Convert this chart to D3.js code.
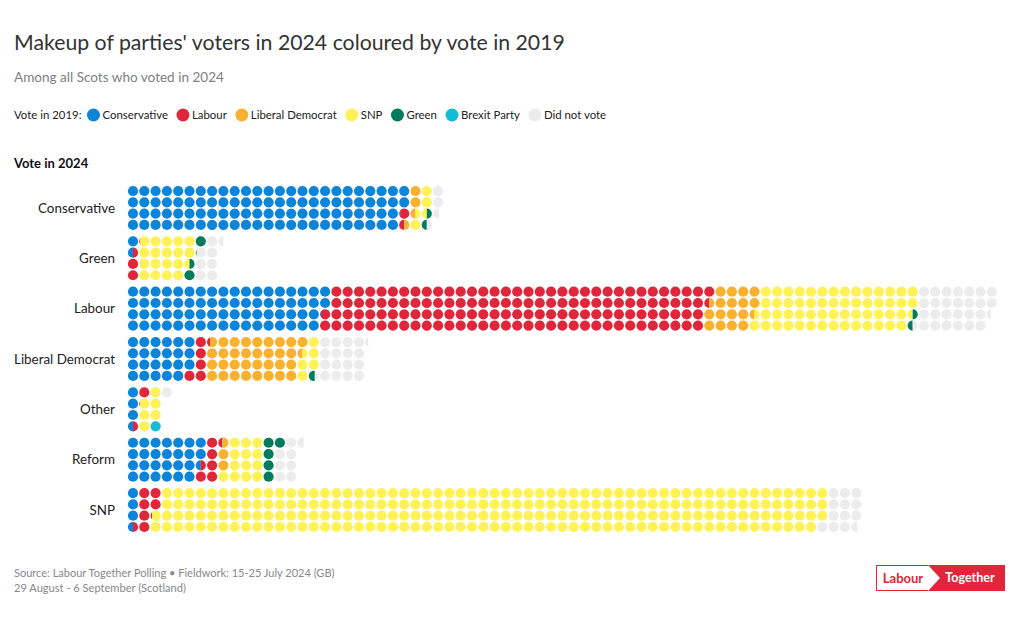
<!DOCTYPE html>
<html>
<head>
<meta charset="utf-8">
<script src="https://cdn.jsdelivr.net/npm/d3@7"></script>
<style>
  html, body { margin: 0; padding: 0; background: #fff; }
  svg { display: block; font-family: Lato, "Open Sans", sans-serif; }
</style>
</head>
<body>
<svg id="chart" width="1020" height="624"></svg>
<script>
// ---- Data (units = dots) ----
const parties2024 = ["Conservative", "Green", "Labour", "Liberal Democrat", "Other", "Reform", "SNP"];
const votes2019 = ["Conservative", "Labour", "Liberal Democrat", "SNP", "Green", "Brexit Party", "Did not vote"];
const colours2019 = ["#0b84d9", "#e0263a", "#f9b12f", "#fff257", "#007b5e", "#12bcd4", "#ececec"];
// values per 2024 party, in the order of parties2024
const fromConservative = [98.1, 1.5, 70.1, 23, 3.5, 26.5, 3.5];
const fromLabour       = [1.4, 2.6, 135.4, 5.3, 1.6, 5.9, 6.65];
const fromLibDem       = [3.0, 0, 17, 33.2, 0, 2.6, 0];
const fromSNP          = [4.0, 18.4, 56, 5.5, 5.9, 13, 236.85];
const fromGreen        = [1.0, 2.6, 1.0, 0.6, 0, 5, 0];
const fromBrexit       = [0, 0, 0, 0, 1.0, 0, 0];
const fromDidNotVote   = [3.1, 7.4, 26.9, 16.7, 1.0, 7.6, 12.6];
const seriesValues = [fromConservative, fromLabour, fromLibDem, fromSNP, fromGreen, fromBrexit, fromDidNotVote];

const svg = d3.select("#chart");
const ROWS = 4;
const step = 11.3;
const rad = 5.1;

// scales
const x = d3.scaleLinear().domain([0, 1]).range([133, 133 + step]);
const y = d3.scaleBand().domain(parties2024).range([182.8, 535.2]).padding(0);
const colour = d3.scaleOrdinal().domain(votes2019).range(colours2019);

function fitText(sel, target) {
  const node = sel.node();
  const fs = parseFloat(sel.attr("font-size"));
  const w = node.getComputedTextLength();
  if (w > 0) sel.attr("font-size", (fs * target / w).toFixed(2));
  return sel;
}

// Title & subtitle
fitText(svg.append("text").attr("x", 14).attr("y", 50).attr("font-size", 22)
  .attr("fill", "#333").text("Makeup of parties' voters in 2024 coloured by vote in 2019"), 551);
fitText(svg.append("text").attr("x", 14).attr("y", 82).attr("font-size", 14)
  .attr("fill", "#808080").text("Among all Scots who voted in 2024"), 210);

// Legend
const lg = svg.append("g");
let lx = 14;
const ly = 115;
const lt = lg.append("text").attr("x", lx).attr("y", ly).attr("dy", "0.35em")
  .attr("font-size", 11.4).attr("fill", "#222").text("Vote in 2019:");
lx += lt.node().getComputedTextLength() + 12;
votes2019.forEach((v) => {
  lg.append("circle").attr("cx", lx).attr("cy", ly).attr("r", 6.5).attr("fill", colour(v));
  const t = lg.append("text").attr("x", lx + 9).attr("y", ly).attr("dy", "0.35em")
    .attr("font-size", 11.4).attr("fill", "#222").text(v);
  lx += 9 + t.node().getComputedTextLength() + 15;
});

// Section heading
svg.append("text").attr("x", 14).attr("y", 163).attr("dy", "0.35em")
  .attr("font-size", 13).attr("font-weight", "bold").attr("fill", "#111").text("Vote in 2024");

// Party labels
svg.append("g").selectAll("text").data(parties2024).join("text")
  .attr("x", 115).attr("y", d => y(d) + y.bandwidth() / 2).attr("dy", "0.35em")
  .attr("text-anchor", "end").attr("font-size", 13.4).attr("fill", "#222").text(d => d);

// Build dot pieces (column-major fill, partial dots split left/right)
function piecePath(cx, cy, u0, u1) {
  if (u0 <= 0.001 && u1 >= 0.999) {
    return `M${cx - rad},${cy}A${rad},${rad} 0 1 1 ${cx + rad},${cy}A${rad},${rad} 0 1 1 ${cx - rad},${cy}Z`;
  }
  const x0 = cx - rad + 2 * rad * u0, x1 = cx - rad + 2 * rad * u1;
  const h0 = Math.sqrt(Math.max(0, rad * rad - (x0 - cx) ** 2));
  const h1 = Math.sqrt(Math.max(0, rad * rad - (x1 - cx) ** 2));
  return `M${x0},${cy - h0}A${rad},${rad} 0 0 1 ${x1},${cy - h1}L${x1},${cy + h1}A${rad},${rad} 0 0 1 ${x0},${cy + h0}Z`;
}

const pieces = [];
parties2024.forEach((p, pi) => {
  let acc = 0;
  votes2019.forEach((v, vi) => {
    const val = seriesValues[vi][pi];
    const a = acc, b = acc + val;
    acc = b;
    if (val <= 0) return;
    for (let i = Math.floor(a); i < Math.ceil(b); i++) {
      const u0 = Math.max(a, i) - i, u1 = Math.min(b, i + 1) - i;
      if (u1 - u0 < 0.02) continue;
      const col = Math.floor(i / ROWS), row = i % ROWS;
      const cx = x(col);
      const cy = y(p) + y.bandwidth() / 2 + (row - (ROWS - 1) / 2) * step;
      pieces.push({ party: p, vote: v, d: piecePath(cx, cy, u0, u1) });
    }
  });
});

svg.append("g").selectAll("path").data(pieces).join("path")
  .attr("d", d => d.d).attr("fill", d => colour(d.vote));

// Footer
fitText(svg.append("text").attr("x", 14).attr("y", 573).attr("dy", "0.35em").attr("font-size", 11)
  .attr("fill", "#888").text("Source: Labour Together Polling \u2022 Fieldwork: 15-25 July 2024 (GB)"), 321);
fitText(svg.append("text").attr("x", 14).attr("y", 588).attr("dy", "0.35em").attr("font-size", 11)
  .attr("fill", "#888").text("29 August - 6 September (Scotland)"), 172);

// Logo
const logo = svg.append("g");
logo.append("rect").attr("x", 876.5).attr("y", 565.5).attr("width", 128).attr("height", 25)
  .attr("fill", "#fff").attr("stroke", "#e0263a").attr("stroke-width", 1);
logo.append("rect").attr("x", 928).attr("y", 565).attr("width", 77).attr("height", 26).attr("fill", "#e0263a");
logo.append("path").attr("d", "M928,565L940,578L928,591Z").attr("fill", "#fff");
logo.append("text").attr("x", 903).attr("y", 578).attr("dy", "0.35em").attr("text-anchor", "middle")
  .attr("font-size", 13).attr("font-weight", "bold").attr("fill", "#e0263a").text("Labour");
logo.append("text").attr("x", 970).attr("y", 578).attr("dy", "0.35em").attr("text-anchor", "middle")
  .attr("font-size", 12.5).attr("font-weight", "bold").attr("fill", "#fff").text("Together");
</script>
</body>
</html>
